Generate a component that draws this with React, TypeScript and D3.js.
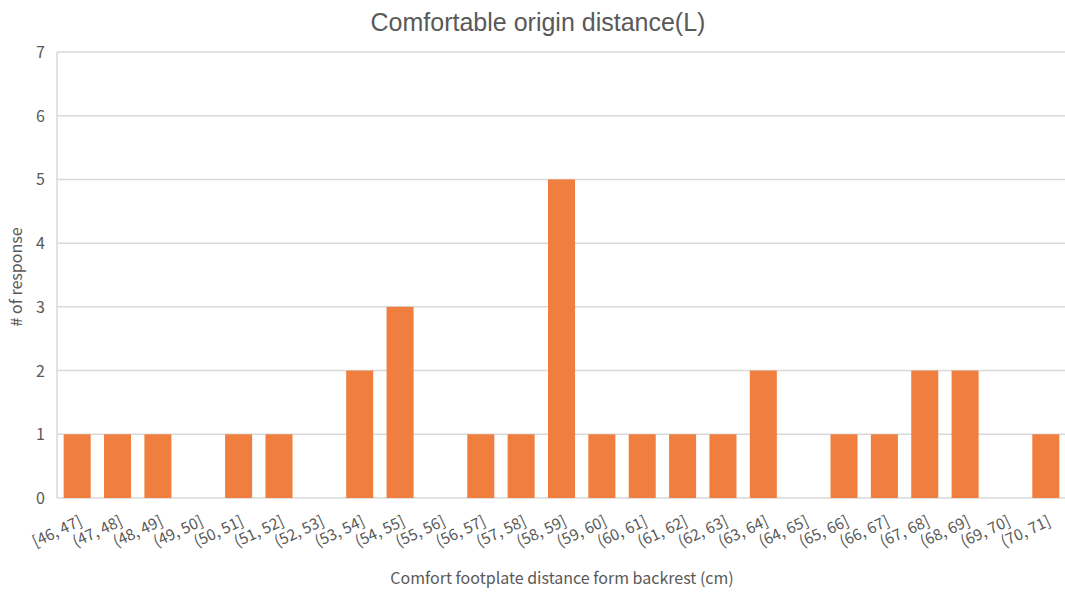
import React from "react";
import * as d3 from "d3";

const categories = [
  "[46, 47]", "(47, 48]", "(48, 49]", "(49, 50]", "(50, 51]", "(51, 52]", "(52, 53]",
  "(53, 54]", "(54, 55]", "(55, 56]", "(56, 57]", "(57, 58]", "(58, 59]", "(59, 60]",
  "(60, 61]", "(61, 62]", "(62, 63]", "(63, 64]", "(64, 65]", "(65, 66]", "(66, 67]",
  "(67, 68]", "(68, 69]", "(69, 70]", "(70, 71]",
];
const responses = [1, 1, 1, 0, 1, 1, 0, 2, 3, 0, 1, 1, 5, 1, 1, 1, 1, 2, 0, 1, 1, 2, 2, 0, 1];
const yTicks = [0, 1, 2, 3, 4, 5, 6, 7];

const title = "Comfortable origin distance(L)";
const xTitle = "Comfort footplate distance form backrest (cm)";
const yTitle = "# of response";

const W = 1065;
const H = 594;
const left = 57;
const right = 1066;
const top = 52;
const bottom = 498;

const labelFont = "'Noto Sans CJK KR', 'Noto Sans', sans-serif";

export default function App() {
  const x = d3.scaleBand<string>().domain(categories).range([left, right]).paddingInner(0.33).paddingOuter(0.165);
  const y = d3.scaleLinear().domain([0, 7]).range([bottom, top]);

  return (
    <svg width={W} height={H} style={{ position: "absolute", left: 0, top: 0, background: "#fff" }}>
      <text x={538} y={31} textAnchor="middle" fontFamily="'Liberation Sans', Arial, sans-serif" fontSize={25} fill="#595959">
        {title}
      </text>
      {yTicks.map((t) => (
        <g key={t}>
          <line x1={left} x2={W} y1={y(t)} y2={y(t)} stroke="#d9d9d9" strokeWidth={1.5} />
          <text x={45} y={y(t) + 6} textAnchor="end" fontFamily={labelFont} fontSize={16} fill="#595959">
            {t}
          </text>
        </g>
      ))}
      <line x1={left} x2={left} y1={top} y2={bottom} stroke="#d9d9d9" strokeWidth={1.5} />
      {categories.map((c, i) => (
        <rect key={c} x={x(c)} y={y(responses[i])} width={x.bandwidth()} height={bottom - y(responses[i])} fill="#F07F3F" />
      ))}
      {categories.map((c) => {
        const cx = (x(c) as number) + x.bandwidth() / 2 + 6;
        const cy = 525;
        return (
          <text key={c} transform={`translate(${cx},${cy}) rotate(-25)`} textAnchor="end" fontFamily={labelFont} fontSize={15.5} fill="#595959">
            {c}
          </text>
        );
      })}
      <text x={562} y={584} textAnchor="middle" fontFamily={labelFont} fontSize={16} fill="#595959">
        {xTitle}
      </text>
      <text transform={`translate(22,${277}) rotate(-90)`} textAnchor="middle" fontFamily={labelFont} fontSize={16} fill="#595959">
        {yTitle}
      </text>
    </svg>
  );
}
